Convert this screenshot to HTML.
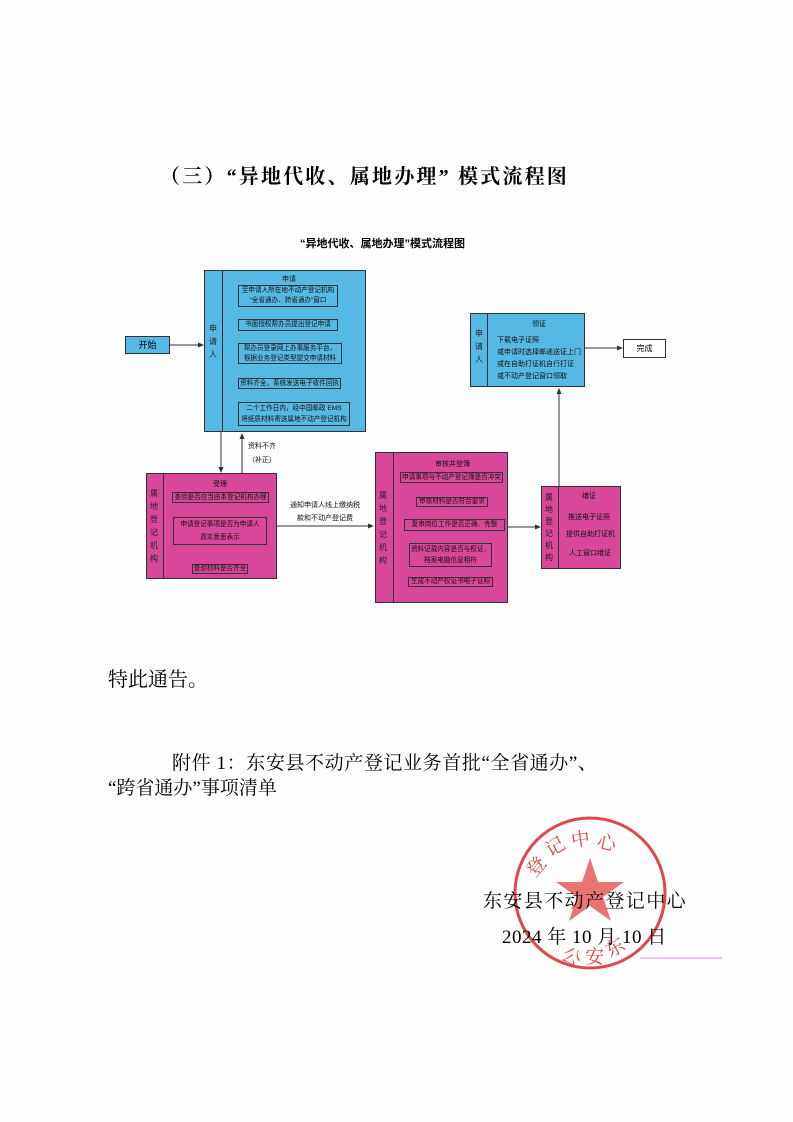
<!DOCTYPE html>
<html><head><meta charset="utf-8"><style>
body{margin:0;background:#fff;}
#p{position:relative;width:793px;height:1122px;overflow:hidden;background:#fdfdfd;font-family:"Liberation Sans","Noto Sans CJK SC",sans-serif;}
.a{position:absolute;}
.b{position:absolute;border:1px solid #333;box-sizing:border-box;}
.blue{background:#56b9e4;}
.pink{background:#d9479a;}
.t{position:absolute;font-size:7px;color:#111;white-space:nowrap;line-height:1;}
.ib{position:absolute;border:1px solid #333;box-sizing:border-box;font-size:6.6px;line-height:11px;text-align:center;white-space:nowrap;color:#111;overflow:hidden;}
.serif{font-family:"Liberation Serif","Noto Serif CJK SC",serif;}
.v{position:absolute;font-size:8px;line-height:13px;width:12px;text-align:center;color:#222;}
</style></head><body><div id="p">
<div class="a serif" style="left:160px;top:160px;font-size:20px;font-weight:bold;letter-spacing:2.2px;">（三）“异地代收、属地办理” 模式流程图</div>
<div class="a" style="left:300px;top:235px;font-size:11px;font-weight:bold;">“异地代收、属地办理”模式流程图</div>

<svg class="a" style="left:0;top:0" width="793" height="700">
<defs><marker id="m" markerWidth="6" markerHeight="6" refX="5" refY="3" orient="auto"><path d="M0,0.5L6,3L0,5.5z" fill="#333"/></marker></defs>
<g stroke="#333" stroke-width="1" fill="none">
<line x1="170" y1="345" x2="203" y2="345" marker-end="url(#m)"/>
<line x1="221" y1="432" x2="221" y2="472" marker-end="url(#m)"/>
<line x1="242" y1="473" x2="242" y2="434" marker-end="url(#m)"/>
<line x1="277" y1="526" x2="373" y2="526" marker-end="url(#m)"/>
<line x1="508" y1="527" x2="540" y2="527" marker-end="url(#m)"/>
<line x1="559" y1="486" x2="559" y2="389" marker-end="url(#m)"/>
<line x1="585" y1="348" x2="622" y2="348" marker-end="url(#m)"/>
<line x1="289" y1="307" x2="289" y2="318" marker-end="url(#m)"/>
<line x1="289" y1="331" x2="289" y2="342" marker-end="url(#m)"/>
<line x1="289" y1="364" x2="289" y2="377" marker-end="url(#m)"/>
<line x1="289" y1="389" x2="289" y2="401" marker-end="url(#m)"/>
<line x1="220" y1="503" x2="220" y2="516" marker-end="url(#m)"/>
<line x1="220" y1="545" x2="220" y2="563" marker-end="url(#m)"/>
<line x1="452" y1="483" x2="452" y2="496" marker-end="url(#m)"/>
<line x1="452" y1="507" x2="452" y2="518" marker-end="url(#m)"/>
<line x1="452" y1="531" x2="452" y2="542" marker-end="url(#m)"/>
<line x1="452" y1="567" x2="452" y2="576" marker-end="url(#m)"/>
</g></svg>

<div class="b blue" style="left:125px;top:336px;width:45px;height:18px;font-size:9px;text-align:center;line-height:16px;">开始</div>

<div class="b blue" style="left:204px;top:270px;width:162px;height:162px;"></div>
<div class="a" style="left:222px;top:270px;width:1px;height:162px;background:#333;"></div>
<div class="v" style="left:207px;top:322px;">申请人</div>
<div class="t" style="left:282px;top:276px;">申请</div>
<div class="ib" style="left:238px;top:285px;width:100px;height:22px;line-height:10px;">至申请人所在地不动产登记机构<br>“全省通办、跨省通办”窗口</div>
<div class="ib" style="left:238px;top:319px;width:100px;height:12px;line-height:10px;">书面授权帮办员提出登记申请</div>
<div class="ib" style="left:238px;top:343px;width:104px;height:21px;line-height:10px;">帮办员登录网上办事服务平台，<br>根据业务登记类型提交申请材料</div>
<div class="ib" style="left:238px;top:378px;width:103px;height:11px;line-height:9px;">资料齐全，系统发送电子收件回执</div>
<div class="ib" style="left:238px;top:402px;width:112px;height:24px;line-height:11px;">二个工作日内，经中国邮政 EMS<br>将纸质材料寄送属地不动产登记机构</div>
<div class="t" style="left:248px;top:443px;">资料不齐</div>
<div class="t" style="left:248px;top:457px;">（补正）</div>

<div class="b pink" style="left:146px;top:473px;width:131px;height:106px;"></div>
<div class="a" style="left:163px;top:473px;width:1px;height:106px;background:#333;"></div>
<div class="v" style="left:148px;top:487px;">属地登记机构</div>
<div class="t" style="left:213px;top:481px;">受理</div>
<div class="ib" style="left:172px;top:492px;width:97px;height:11px;line-height:9px;">查验是否应当由本登记机构办理</div>
<div class="ib" style="left:173px;top:517px;width:94px;height:28px;line-height:13px;">申请登记事项是否为申请人<br>真实意思表示</div>
<div class="ib" style="left:192px;top:564px;width:56px;height:10px;line-height:8px;">查验材料是否齐全</div>
<div class="t" style="left:290px;top:502px;">通知申请人线上缴纳税</div>
<div class="t" style="left:297px;top:515px;">款和不动产登记费</div>

<div class="b pink" style="left:375px;top:452px;width:133px;height:151px;"></div>
<div class="a" style="left:393px;top:452px;width:1px;height:151px;background:#333;"></div>
<div class="v" style="left:377px;top:489px;">属地登记机构</div>
<div class="t" style="left:435px;top:461px;">审核并登簿</div>
<div class="ib" style="left:400px;top:472px;width:103px;height:11px;line-height:9px;">申请事项与不动产登记簿是否冲突</div>
<div class="ib" style="left:416px;top:497px;width:72px;height:10px;line-height:8px;">审核材料是否符合要求</div>
<div class="ib" style="left:404px;top:519px;width:101px;height:12px;line-height:10px;">复审岗位工作是否正确、完整</div>
<div class="ib" style="left:409px;top:543px;width:83px;height:24px;line-height:11px;">资料记载内容是否与权证、<br>档案电脑信息相符</div>
<div class="ib" style="left:408px;top:577px;width:85px;height:10px;line-height:8px;">生成不动产权证书电子证照</div>

<div class="b pink" style="left:541px;top:486px;width:80px;height:83px;"></div>
<div class="a" style="left:558px;top:486px;width:1px;height:83px;background:#333;"></div>
<div class="v" style="left:543px;top:492px;line-height:12px;">属地登记机构</div>
<div class="t" style="left:582px;top:493px;">缮证</div>
<div class="t" style="left:568px;top:514px;">推送电子证照</div>
<div class="t" style="left:566px;top:531px;">提供自助打证机</div>
<div class="t" style="left:569px;top:550px;">人工窗口缮证</div>

<div class="b blue" style="left:470px;top:313px;width:115px;height:74px;"></div>
<div class="a" style="left:487px;top:313px;width:1px;height:74px;background:#333;"></div>
<div class="v" style="left:473px;top:327px;">申请人</div>
<div class="t" style="left:532px;top:321px;">领证</div>
<div class="t" style="left:497px;top:337px;">下载电子证照</div>
<div class="t" style="left:497px;top:349px;">或申请时选择邮递送证上门</div>
<div class="t" style="left:497px;top:361px;">或在自助打证机自行打证</div>
<div class="t" style="left:497px;top:373px;">或不动产登记窗口领取</div>
<div class="b" style="left:623px;top:339px;width:43px;height:19px;background:#fff;font-size:8px;text-align:center;line-height:17px;">完成</div>

<div class="a serif" style="left:108px;top:663px;font-size:20px;">特此通告。</div>
<div class="a serif" style="left:172px;top:748px;font-size:19px;letter-spacing:0.6px;">附件 1：东安县不动产登记业务首批“全省通办”、</div>
<div class="a serif" style="left:108px;top:773px;font-size:19px;">“跨省通办”事项清单</div>

<svg class="a" style="left:0;top:0" width="793" height="1122">
<g fill="none" stroke="#e04848">
<circle cx="590" cy="893" r="75" stroke-width="3"/>
<path d="M590,858 L598,882 L624,882 L603,897 L611,921 L590,906 L569,921 L577,897 L556,882 L582,882z" fill="#e65a5a" stroke="none" opacity="0.85"/>
</g>
<g fill="#e04848" font-family="Noto Serif CJK SC, serif" font-size="19">
<text x="535" y="878" transform="rotate(-50 535 878)">登</text>
<text x="550" y="857" transform="rotate(-30 550 857)">记</text>
<text x="572" y="847" transform="rotate(-8 572 847)">中</text>
<text x="596" y="847" transform="rotate(12 596 847)">心</text>
<text x="560" y="958" transform="rotate(30 560 958)">公</text>
<text x="585" y="963">安</text>
<text x="610" y="958" transform="rotate(-30 610 958)">东</text>
</g>
<line x1="640" y1="958" x2="722" y2="958" stroke="#d88ad8" stroke-width="1"/>
</svg>
<div class="a serif" style="left:483px;top:886px;font-size:19px;letter-spacing:1.4px;">东安县不动产登记中心</div>
<div class="a serif" style="left:502px;top:922px;font-size:19px;letter-spacing:0.5px;">2024 年 10 月 10 日</div>
</div></body></html>
